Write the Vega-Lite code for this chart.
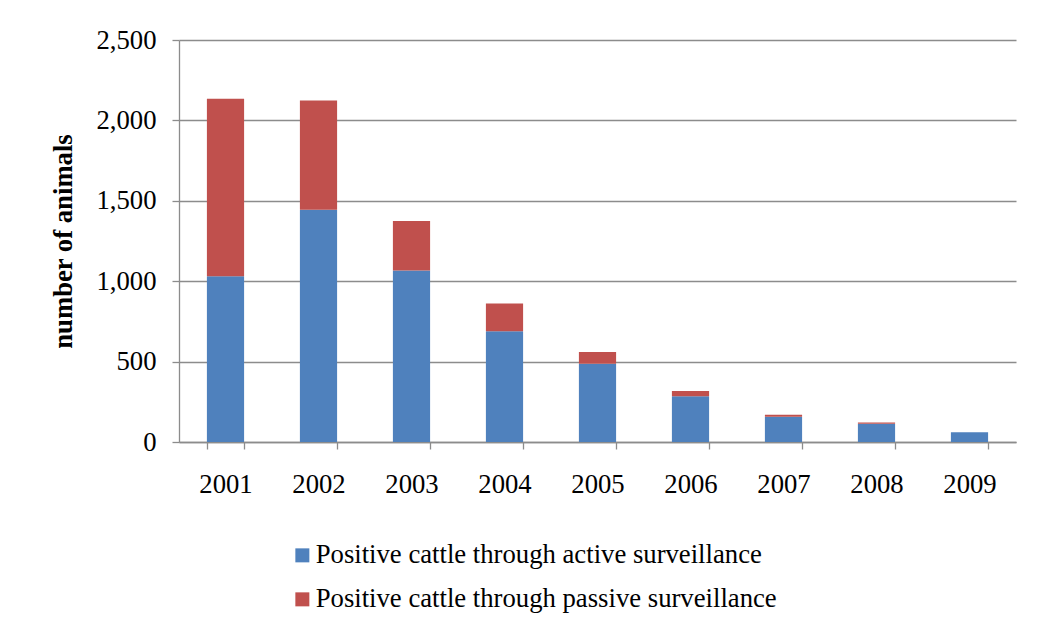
{
  "$schema": "https://vega.github.io/schema/vega-lite/v6.json",
  "width": 837,
  "height": 402,
  "autosize": "none",
  "padding": {"left": 179, "top": 40, "right": 21, "bottom": 181},
  "background": "white",
  "config": {
    "view": {"stroke": null},
    "font": "Liberation Serif"
  },
  "data": {
    "values": [
      {"year": "2001", "type": "Positive cattle through active surveillance", "value": 1031},
      {"year": "2001", "type": "Positive cattle through passive surveillance", "value": 1104},
      {"year": "2002", "type": "Positive cattle through active surveillance", "value": 1445},
      {"year": "2002", "type": "Positive cattle through passive surveillance", "value": 679},
      {"year": "2003", "type": "Positive cattle through active surveillance", "value": 1066},
      {"year": "2003", "type": "Positive cattle through passive surveillance", "value": 309},
      {"year": "2004", "type": "Positive cattle through active surveillance", "value": 689},
      {"year": "2004", "type": "Positive cattle through passive surveillance", "value": 172},
      {"year": "2005", "type": "Positive cattle through active surveillance", "value": 486},
      {"year": "2005", "type": "Positive cattle through passive surveillance", "value": 73},
      {"year": "2006", "type": "Positive cattle through active surveillance", "value": 284},
      {"year": "2006", "type": "Positive cattle through passive surveillance", "value": 33},
      {"year": "2007", "type": "Positive cattle through active surveillance", "value": 157},
      {"year": "2007", "type": "Positive cattle through passive surveillance", "value": 13},
      {"year": "2008", "type": "Positive cattle through active surveillance", "value": 114},
      {"year": "2008", "type": "Positive cattle through passive surveillance", "value": 8},
      {"year": "2009", "type": "Positive cattle through active surveillance", "value": 60},
      {"year": "2009", "type": "Positive cattle through passive surveillance", "value": 0}
    ]
  },
  "mark": {"type": "bar"},
  "encoding": {
    "x": {
      "field": "year",
      "type": "ordinal",
      "scale": {"paddingInner": 0.6, "paddingOuter": 0.3},
      "axis": {
        "title": null,
        "labelAngle": 0,
        "labelFont": "Liberation Serif",
        "labelFontSize": 26.7,
        "labelColor": "black",
        "labelPadding": 22,
        "tickBand": "extent",
        "tickSize": 7,
        "tickColor": "#8c8c8c",
        "tickWidth": 1.3,
        "domainColor": "#8c8c8c",
        "domainWidth": 1.3
      }
    },
    "y": {
      "field": "value",
      "type": "quantitative",
      "stack": "zero",
      "scale": {"domain": [0, 2500], "nice": false},
      "axis": {
        "title": "number of animals",
        "titleFont": "Liberation Serif",
        "titleFontSize": 26.7,
        "titleFontWeight": "bold",
        "titleColor": "black",
        "titleX": -108,
        "titleY": 201,
        "titleAngle": -90,
        "titleAlign": "center",
        "titleBaseline": "alphabetic",
        "values": [0, 500, 1000, 1500, 2000, 2500],
        "format": ",d",
        "labelFont": "Liberation Serif",
        "labelFontSize": 26.7,
        "labelColor": "black",
        "labelPadding": 16,
        "tickSize": 7,
        "tickColor": "#8c8c8c",
        "tickWidth": 1.3,
        "domainColor": "#8c8c8c",
        "domainWidth": 1.3,
        "grid": true,
        "gridColor": "#8c8c8c",
        "gridWidth": 1.3
      }
    },
    "color": {
      "field": "type",
      "type": "nominal",
      "scale": {
        "domain": ["Positive cattle through active surveillance", "Positive cattle through passive surveillance"],
        "range": ["#4F81BD", "#C0504D"]
      },
      "legend": {
        "title": null,
        "orient": "none",
        "legendX": 110,
        "legendY": 502,
        "direction": "vertical",
        "symbolType": "square",
        "symbolSize": 196,
        "symbolStrokeWidth": 0,
        "labelFont": "Liberation Serif",
        "labelFontSize": 26.7,
        "labelColor": "black",
        "labelLimit": 0,
        "labelOffset": 0,
        "rowPadding": 16
      }
    },
    "order": {"field": "type", "sort": "ascending"}
  }
}
